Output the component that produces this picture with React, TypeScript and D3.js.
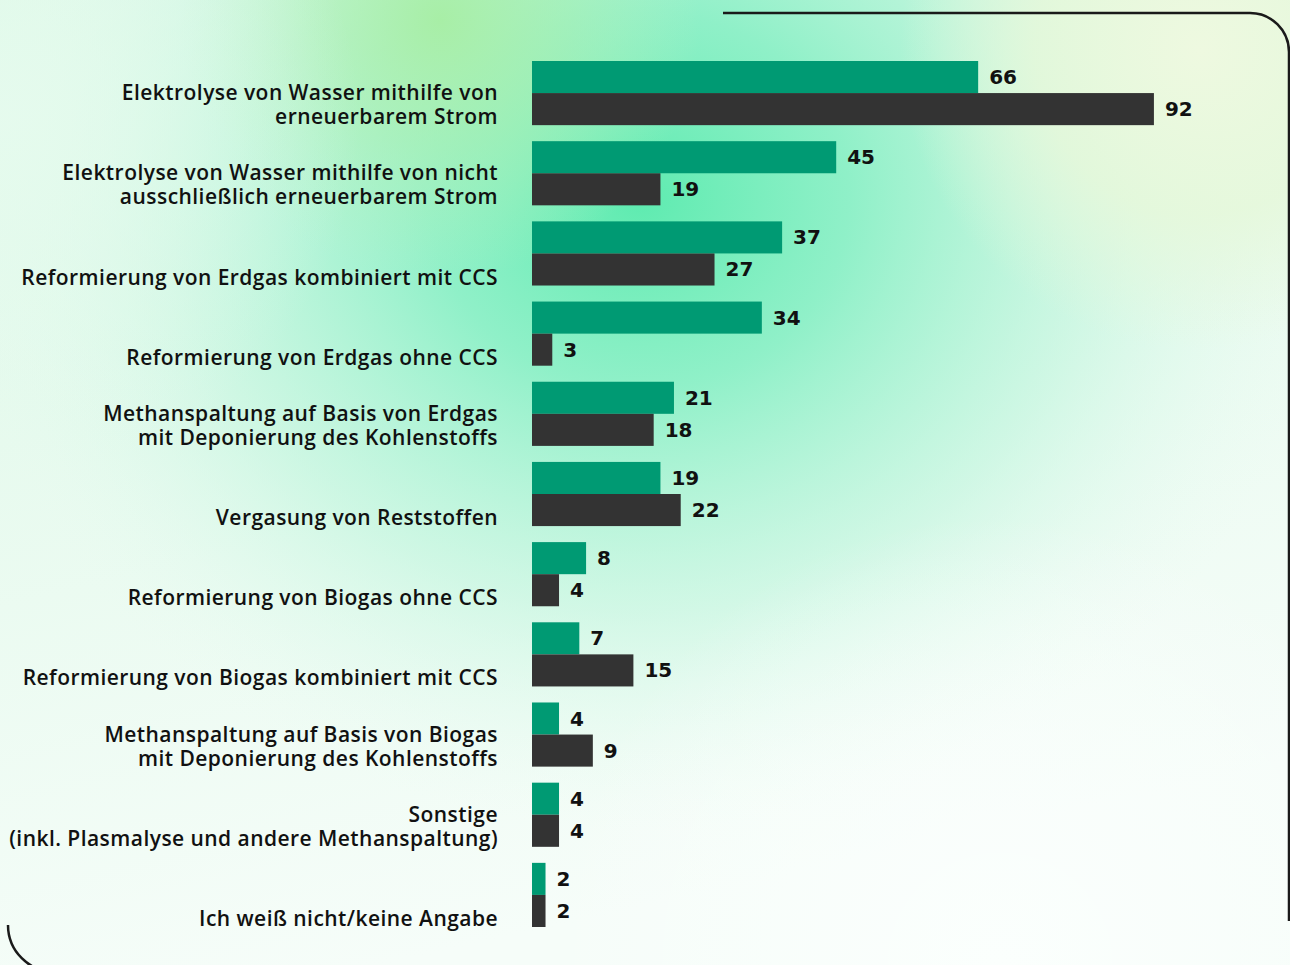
import React from "react";
import * as d3 from "d3";

const categories: string[][] = [
  ["Elektrolyse von Wasser mithilfe von", "erneuerbarem Strom"],
  ["Elektrolyse von Wasser mithilfe von nicht", "ausschließlich erneuerbarem Strom"],
  ["Reformierung von Erdgas kombiniert mit CCS"],
  ["Reformierung von Erdgas ohne CCS"],
  ["Methanspaltung auf Basis von Erdgas", "mit Deponierung des Kohlenstoffs"],
  ["Vergasung von Reststoffen"],
  ["Reformierung von Biogas ohne CCS"],
  ["Reformierung von Biogas kombiniert mit CCS"],
  ["Methanspaltung auf Basis von Biogas", "mit Deponierung des Kohlenstoffs"],
  ["Sonstige", "(inkl. Plasmalyse und andere Methanspaltung)"],
  ["Ich weiß nicht/keine Angabe"],
];

const seriesNames = ["Serie 1", "Serie 2"];
const series1 = [66, 45, 37, 34, 21, 19, 8, 7, 4, 4, 2];
const series2 = [92, 19, 27, 3, 18, 22, 4, 15, 9, 4, 2];
const seriesColors = ["#009a73", "#333333"];

const W = 1290;
const H = 965;

export default function App() {
  const keys = categories.map((_, i) => String(i));
  const y = d3.scaleBand<string>().domain(keys).range([61, 927]).paddingInner(0.2).paddingOuter(0);
  const yInner = d3.scaleBand<string>().domain(seriesNames).range([0, y.bandwidth()]).padding(0);
  const x = d3.scaleLinear().domain([0, 100]).range([532, 532 + 676]);
  const values = [series1, series2];

  const labelFont = "'Open Sans', sans-serif";
  const numFont = "'DejaVu Sans', sans-serif";

  return (
    <svg
      width={W}
      height={H}
      style={{ position: "fixed", left: 0, top: 0, display: "block" }}
      xmlns="http://www.w3.org/2000/svg"
    >
      <defs>
        <radialGradient id="gMint" cx="640" cy="200" r="700" gradientUnits="userSpaceOnUse" gradientTransform="translate(640 200) scale(1 0.9) translate(-640 -200)">
          <stop offset="0" stopColor="#5eebb0" stopOpacity="1" />
          <stop offset="0.3" stopColor="#86efc4" stopOpacity="0.9" />
          <stop offset="0.65" stopColor="#bdf5dc" stopOpacity="0.6" />
          <stop offset="1" stopColor="#e8fbf1" stopOpacity="0" />
        </radialGradient>
        <radialGradient id="gYellow" cx="440" cy="20" r="260" gradientUnits="userSpaceOnUse">
          <stop offset="0" stopColor="#a8eea4" stopOpacity="0.95" />
          <stop offset="0.5" stopColor="#b4f0b0" stopOpacity="0.5" />
          <stop offset="1" stopColor="#c8f4c4" stopOpacity="0" />
        </radialGradient>
        <radialGradient id="gPaleTR" cx="1200" cy="50" r="300" gradientUnits="userSpaceOnUse">
          <stop offset="0" stopColor="#eef9e0" stopOpacity="1" />
          <stop offset="0.55" stopColor="#e6f8da" stopOpacity="0.85" />
          <stop offset="1" stopColor="#e8f8dc" stopOpacity="0" />
        </radialGradient>
        <linearGradient id="gBase" x1="0" y1="0" x2="0.3" y2="1">
          <stop offset="0" stopColor="#dcf8e6" />
          <stop offset="1" stopColor="#f6fdf9" />
        </linearGradient>
        <radialGradient id="gLeft" cx="0" cy="120" r="360" gradientUnits="userSpaceOnUse">
          <stop offset="0" stopColor="#e6fbee" stopOpacity="0.9" />
          <stop offset="1" stopColor="#e6fbee" stopOpacity="0" />
        </radialGradient>
        <radialGradient id="gBottom" cx="1000" cy="965" r="450" gradientUnits="userSpaceOnUse">
          <stop offset="0" stopColor="#fbfffd" stopOpacity="1" />
          <stop offset="1" stopColor="#fbfffd" stopOpacity="0" />
        </radialGradient>
      </defs>

      <rect x={0} y={0} width={W} height={H} fill="url(#gBase)" />
      <rect x={0} y={0} width={W} height={H} fill="url(#gMint)" />
      <rect x={0} y={0} width={W} height={H} fill="url(#gYellow)" />
      <rect x={0} y={0} width={W} height={H} fill="url(#gPaleTR)" />
      <rect x={0} y={0} width={W} height={H} fill="url(#gLeft)" />
      <rect x={0} y={0} width={W} height={H} fill="url(#gBottom)" />

      <path
        d="M723,13 H1250 A39,39 0 0 1 1289,52 V921"
        fill="none"
        stroke="#1a1a1a"
        strokeWidth={2.5}
      />
      <path d="M8,925 A47,47 0 0 0 55,972" fill="none" stroke="#1a1a1a" strokeWidth={2.5} />

      {categories.map((lines, i) => {
        const g0 = y(String(i))!;
        const bottom = g0 + y.bandwidth();
        return (
          <g key={i}>
            {values.map((vals, s) => {
              const by = g0 + yInner(seriesNames[s])!;
              const bh = yInner.bandwidth();
              return (
                <g key={s}>
                  <rect x={x(0)} y={by} width={x(vals[i]) - x(0)} height={bh} fill={seriesColors[s]} />
                  <text
                    x={x(vals[i]) + 11}
                    y={by + bh / 2}
                    dominantBaseline="central"
                    fontFamily={numFont}
                    fontWeight={700}
                    fontSize={20}
                    fill="#111"
                  >
                    {vals[i]}
                  </text>
                </g>
              );
            })}
            <text
              textAnchor="end"
              fontFamily={labelFont}
              fontWeight={600}
              fontSize={21}
              letterSpacing={0.45}
              fill="#111"
            >
              {lines.map((ln, k) => (
                <tspan key={k} x={498} y={bottom - 1 - (lines.length - 1 - k) * 24}>
                  {ln}
                </tspan>
              ))}
            </text>
          </g>
        );
      })}
    </svg>
  );
}
